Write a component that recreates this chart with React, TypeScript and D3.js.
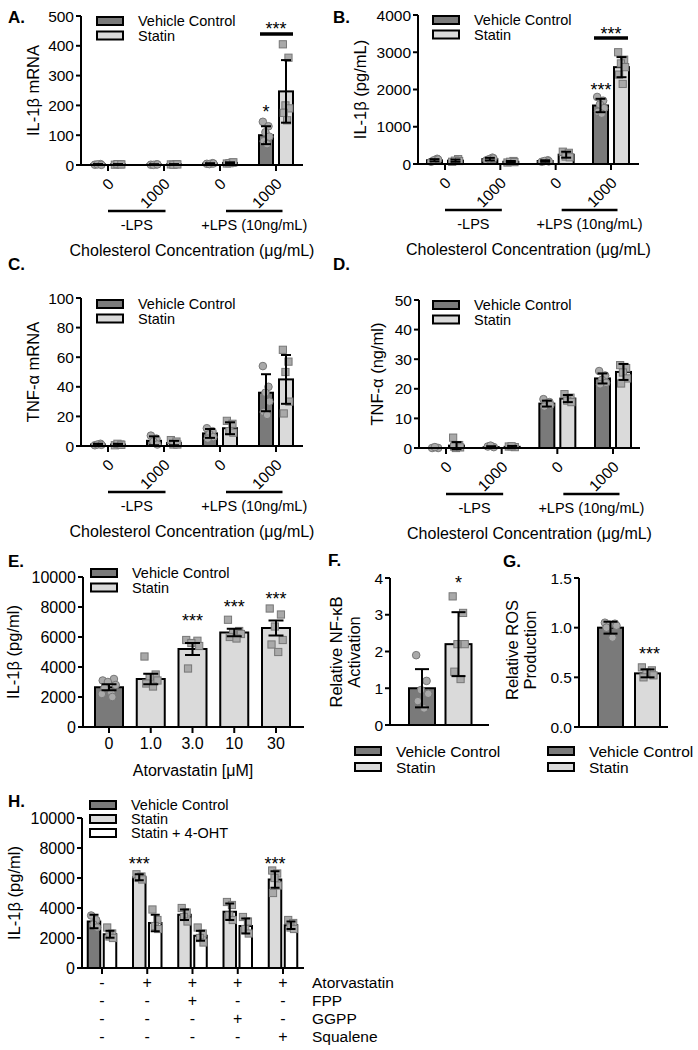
import React from 'react';
import * as d3 from 'd3';

// ---------------- DATA ----------------
const cholLabels = ['0', '1000', '0', '1000'];
const lpsLabels = ['-LPS', '+LPS (10ng/mL)'];
const seriesAD = ['Vehicle Control', 'Statin'];
const seriesH = ['Vehicle Control', 'Statin', 'Statin + 4-OHT'];

// A: IL-1β mRNA
const aVehicle = [2, 1.5, 4.5, 100];
const aVehicleSD = [1, 1, 1.5, 30];
const aStatin = [2, 2, 7, 247];
const aStatinSD = [1, 1, 2, 105];
const aVehiclePts = [[1, 3, 2, 0.5], [1, 2, 0.5, 2], [4, 6, 3, 5], [145, 130, 110, 95, 80, 70]];
const aStatinPts = [[1, 2, 3, 2], [2, 3, 1, 2], [5, 8, 6, 9], [405, 360, 200, 190, 175, 150]];

// B: IL-1β (pg/mL)
const bVehicle = [100, 130, 80, 1570];
const bVehicleSD = [30, 35, 20, 180];
const bStatin = [90, 60, 250, 2600];
const bStatinSD = [30, 20, 80, 270];
const bVehiclePts = [[60, 140, 100, 120], [100, 170, 130, 150], [60, 100, 80, 70], [1800, 1700, 1600, 1500, 1400, 1350]];
const bStatinPts = [[60, 130, 90, 80], [40, 80, 60, 50], [330, 300, 200, 180], [3000, 2800, 2700, 2600, 2400, 2150]];

// C: TNF-α mRNA
const cVehicle = [1, 3.5, 8.5, 36];
const cVehicleSD = [0.5, 3, 3, 12.5];
const cStatin = [1, 2, 12, 45];
const cStatinSD = [0.5, 1.5, 4, 16.5];
const cVehiclePts = [[0.5, 1.5, 1, 0.8], [7, 5, 3, 1], [12, 10, 8, 6, 5], [54, 40, 36, 30, 23, 21]];
const cStatinPts = [[0.5, 1, 1.5, 0.8], [4, 3, 1, 1], [17, 15, 10, 9], [65, 57, 50, 30, 22]];

// D: TNF-α (ng/ml)
const dVehicle = [0, 0.3, 15, 23.5];
const dVehicleSD = [0, 0.3, 1, 1.7];
const dStatin = [0.8, 0.4, 16.7, 25.7];
const dStatinSD = [1.2, 0.3, 1.2, 2.7];
const dVehiclePts = [[0, 0, 0.3], [0.5, 0.3, 0.8], [16.5, 15.5, 15, 14.5, 14], [26, 24.5, 23, 22, 21.5]];
const dStatinPts = [[3.5, 1, 0, 0.2, 0.5], [0.5, 0.3, 0.6], [18.2, 17, 16, 15.5], [28, 27, 25.5, 23.5, 21.8]];

// E: Atorvastatin dose
const eDoses = ['0', '1.0', '3.0', '10', '30'];
const eMeans = [2650, 3200, 5200, 6300, 6600];
const eSEM = [200, 350, 400, 250, 500];
const ePts = [
  [3100, 3200, 3000, 2800, 2600, 2300, 2200, 2000],
  [4700, 3500, 3300, 3100, 2900, 2700],
  [5800, 5750, 5600, 5400, 3900],
  [7150, 6400, 6300, 6200, 6000, 5900],
  [7900, 7500, 6700, 5800, 5500, 5000],
];
const eStars = ['', '', '***', '***', '***'];

// F: NF-κB
const fMeans = [1.0, 2.2];
const fSD = [0.52, 0.87];
const fPts = [[1.9, 1.2, 0.95, 0.85, 0.65, 0.45], [3.5, 3.05, 2.2, 2.2, 1.45, 1.25]];

// G: ROS
const gMeans = [1.0, 0.54];
const gSD = [0.06, 0.04];
const gPts = [[1.05, 1.04, 1.03, 1.02, 1.0, 0.9], [0.6, 0.57, 0.55, 0.52, 0.5]];

// H: rescue
const hFirst = [3100, 6050, 3550, 3750, 5900];
const hFirstSD = [450, 200, 350, 550, 550];
const hFirstPts = [[3500, 3200, 2900, 2700], [6250, 6100, 6000, 5900], [4000, 3700, 3400, 3100], [4400, 4200, 3500, 3200], [6500, 6300, 6000, 5500, 5000]];
const hOHT = [2250, 3000, 2150, 2800, 2850];
const hOHTSD = [230, 550, 330, 500, 250];
const hOHTPts = [[2700, 2300, 2100, 2000], [3900, 3200, 2800, 2600], [2700, 2300, 2000, 1700], [3400, 3100, 2600, 2300], [3200, 3000, 2700, 2600]];
const hRows = ['Atorvastatin', 'FPP', 'GGPP', 'Squalene'];
const hSigns = [
  ['-', '+', '+', '+', '+'],
  ['-', '-', '+', '-', '-'],
  ['-', '-', '-', '+', '-'],
  ['-', '-', '-', '-', '+'],
];
const hStars = ['', '***', '', '', '***'];

// ---------------- STYLE ----------------
const FONT = '"Liberation Sans", Arial, Helvetica, sans-serif';
const C_VC = '#7a7a7a';
const C_ST = '#dadada';
const C_OHT = '#ffffff';
const PT_FILL = '#a9a9a9';
const PT_STROKE = '#777777';
const JIT = [-0.28, 0.22, -0.05, 0.3, -0.2, 0.1, -0.32, 0.15];
const TFS = 15.5;

type Y = d3.ScaleLinear<number, number>;

function YAxis({ x, y, ticks, fmt, fs = TFS }: { x: number; y: Y; ticks: number[]; fmt?: (v: number) => string; fs?: number }) {
  const [y0, y1] = y.range();
  const f = fmt || ((v: number) => String(v));
  return (
    <g>
      <line x1={x} x2={x} y1={y0 + 1} y2={y1} stroke="#000" strokeWidth={2} />
      {ticks.map((t) => (
        <g key={t}>
          <line x1={x - 5} x2={x} y1={y(t)} y2={y(t)} stroke="#000" strokeWidth={2} />
          <text x={x - 7} y={y(t)} textAnchor="end" dominantBaseline="central" fontSize={fs}>{f(t)}</text>
        </g>
      ))}
    </g>
  );
}

function XAxis({ x0, x1, y0, ticks }: { x0: number; x1: number; y0: number; ticks: number[] }) {
  return (
    <g>
      <line x1={x0 - 1} x2={x1} y1={y0} y2={y0} stroke="#000" strokeWidth={2} />
      {ticks.map((t, i) => (
        <line key={i} x1={t} x2={t} y1={y0} y2={y0 + 6} stroke="#000" strokeWidth={2} />
      ))}
    </g>
  );
}

function Bar({ cx, w, y, mean, sd, pts, fill, shape, cap }: { cx: number; w: number; y: Y; mean: number; sd: number; pts: number[]; fill: string; shape: string; cap?: number }) {
  const y0 = y(0);
  const ym = y(mean);
  const cw = cap ?? Math.min(w * 0.7, 14);
  return (
    <g>
      <rect x={cx - w / 2} y={ym} width={w} height={Math.max(0, y0 - ym)} fill={fill} stroke="#000" strokeWidth={2} />
      {pts.map((p, i) => {
        const px = cx + JIT[i % JIT.length] * w * 0.8;
        const py = y(p);
        return shape === 'circle' ? (
          <circle key={i} cx={px} cy={py} r={3.8} fill={PT_FILL} stroke={PT_STROKE} strokeWidth={1} />
        ) : (
          <rect key={i} x={px - 3.6} y={py - 3.6} width={7.2} height={7.2} fill={PT_FILL} stroke={PT_STROKE} strokeWidth={1} />
        );
      })}
      {sd > 0 && (
        <g stroke="#000" strokeWidth={2}>
          <line x1={cx} x2={cx} y1={y(mean - sd)} y2={y(mean + sd)} />
          <line x1={cx - cw / 2} x2={cx + cw / 2} y1={y(mean + sd)} y2={y(mean + sd)} />
          <line x1={cx - cw / 2} x2={cx + cw / 2} y1={y(mean - sd)} y2={y(mean - sd)} />
        </g>
      )}
    </g>
  );
}

function Legend({ x, y, items, gap, fs = 15.5 }: { x: number; y: number; items: { label: string; fill: string }[]; gap: number; fs?: number }) {
  return (
    <g>
      {items.map((it, i) => (
        <g key={i}>
          <rect x={x} y={y + i * gap} width={26} height={8} fill={it.fill} stroke="#000" strokeWidth={2} />
          <text x={x + 41} y={y + i * gap + 4} dominantBaseline="central" fontSize={fs}>{it.label}</text>
        </g>
      ))}
    </g>
  );
}

function Stars({ x, y, s }: { x: number; y: number; s: string }) {
  return (
    <text x={x} y={y + 10} textAnchor="middle" fontSize={18}>{s}</text>
  );
}

function YTitle({ x, y, lines, fs = 16.5 }: { x: number; y: number; lines: string[]; fs?: number }) {
  const lh = fs * 1.1;
  return (
    <text transform={`translate(${x},${y}) rotate(-90)`} textAnchor="middle" fontSize={fs}>
      {lines.map((l, i) => (
        <tspan key={i} x={0} y={(i - (lines.length - 1) / 2) * lh} dominantBaseline="central">{l}</tspan>
      ))}
    </text>
  );
}

function CholPanel({ label, lx, ly, y, axisX, axisEnd, c0, c3, w, off, vc, vcSD, vcPts, st, stSD, stPts, ticks, title, titleX, legX, legY, fmt }: any) {
  const xs = d3.scalePoint<number>().domain(d3.range(cholLabels.length)).range([c0, c3]);
  const centers = d3.range(cholLabels.length).map((i) => xs(i) as number);
  const y0 = y(0);
  const ul = [[centers[0], centers[1] + 1.5], [centers[2] + 6, centers[3] + 6.5]];
  return (
    <g>
      <text x={lx} y={ly} fontSize={17} fontWeight="bold">{label}</text>
      <YTitle x={titleX} y={(y.range()[0] + y.range()[1]) / 2} lines={[title]} />
      <YAxis x={axisX} y={y} ticks={ticks} fmt={fmt} />
      {centers.map((c, i) => (
        <g key={i}>
          <Bar cx={c - off} w={w} y={y} mean={vc[i]} sd={vcSD[i]} pts={vcPts[i]} fill={C_VC} shape="circle" cap={10} />
          <Bar cx={c + off} w={w} y={y} mean={st[i]} sd={stSD[i]} pts={stPts[i]} fill={C_ST} shape="square" cap={10} />
        </g>
      ))}
      <XAxis x0={axisX} x1={axisEnd} y0={y0} ticks={centers} />
      {cholLabels.map((l, i) => (
        <text key={i} transform={`translate(${centers[i] + 3},${y0 + 16}) rotate(-45)`} textAnchor="end" dominantBaseline="central" fontSize={TFS}>{l}</text>
      ))}
      {ul.map((u, i) => (
        <g key={i}>
          <line x1={u[0]} x2={u[1]} y1={y0 + 46} y2={y0 + 46} stroke="#000" strokeWidth={2.5} />
          <text x={(u[0] + u[1]) / 2} y={y0 + 60} textAnchor="middle" dominantBaseline="central" fontSize={14.5}>{lpsLabels[i]}</text>
        </g>
      ))}
      <text x={(axisX + axisEnd) / 2} y={y0 + 85} textAnchor="middle" dominantBaseline="central" fontSize={16}>Cholesterol Concentration (μg/mL)</text>
      <Legend x={legX} y={legY} gap={14.5} fs={14.5} items={[{ label: seriesAD[0], fill: C_VC }, { label: seriesAD[1], fill: C_ST }]} />
    </g>
  );
}

export default function App() {
  const yA = d3.scaleLinear().domain([0, 500]).range([165, 16]);
  const yB = d3.scaleLinear().domain([0, 4000]).range([164, 15]);
  const yC = d3.scaleLinear().domain([0, 100]).range([446, 298]);
  const yD = d3.scaleLinear().domain([0, 50]).range([448, 300]);

  const yE = d3.scaleLinear().domain([0, 10000]).range([727, 577]);
  const xE = d3.scalePoint<number>().domain(d3.range(eDoses.length)).range([109, 276]);
  const eCenters = d3.range(eDoses.length).map((i) => xE(i) as number);

  const yF = d3.scaleLinear().domain([0, 4]).range([725, 578]);
  const fCenters = [422, 458.5];
  const yG = d3.scaleLinear().domain([0, 1.5]).range([727, 578]);
  const gCenters = [610.5, 647.5];

  const yH = d3.scaleLinear().domain([0, 10000]).range([968, 818]);
  const xH = d3.scalePoint<number>().domain(d3.range(hFirst.length)).range([102, 283]);
  const hCenters = d3.range(hFirst.length).map((i) => xH(i) as number);
  const hOff = 8;
  const hW = 12.5;

  const fmtDec = (v: number) => v.toFixed(1);

  return (
    <div style={{ position: 'absolute', left: 0, top: 0 }}>
      <svg width={698} height={1050} style={{ display: 'block', background: '#fff' }} fontFamily={FONT}>
        <rect x={0} y={0} width={698} height={1050} fill="#fff" />
        {/* A */}
        <CholPanel label="A." lx={8} ly={23} y={yA} axisX={81} axisEnd={303} c0={108} c3={276} w={14} off={10}
          vc={aVehicle} vcSD={aVehicleSD} vcPts={aVehiclePts} st={aStatin} stSD={aStatinSD} stPts={aStatinPts}
          ticks={[0, 100, 200, 300, 400, 500]} title="IL-1β mRNA" titleX={33} legX={97} legY={17} />
        <Stars x={266} y={108} s="*" />
        <line x1={260} x2={293} y1={34} y2={34} stroke="#000" strokeWidth={3.5} />
        <Stars x={276} y={25} s="***" />

        {/* B */}
        <CholPanel label="B." lx={333} ly={23} y={yB} axisX={418} axisEnd={639} c0={445} c3={611} w={15} off={10.5}
          vc={bVehicle} vcSD={bVehicleSD} vcPts={bVehiclePts} st={bStatin} stSD={bStatinSD} stPts={bStatinPts}
          ticks={[0, 1000, 2000, 3000, 4000]} title="IL-1β (pg/mL)" titleX={360} legX={433} legY={16} />
        <Stars x={601} y={86} s="***" />
        <line x1={594} x2={628} y1={38} y2={38} stroke="#000" strokeWidth={3.5} />
        <Stars x={611} y={30} s="***" />

        {/* C */}
        <CholPanel label="C." lx={8} ly={270} y={yC} axisX={81} axisEnd={303} c0={108} c3={276} w={14} off={10}
          vc={cVehicle} vcSD={cVehicleSD} vcPts={cVehiclePts} st={cStatin} stSD={cStatinSD} stPts={cStatinPts}
          ticks={[0, 20, 40, 60, 80, 100]} title="TNF-α mRNA" titleX={33} legX={97} legY={300} />

        {/* D */}
        <CholPanel label="D." lx={333} ly={270} y={yD} axisX={419} axisEnd={640} c0={446} c3={613} w={15} off={10.5}
          vc={dVehicle} vcSD={dVehicleSD} vcPts={dVehiclePts} st={dStatin} stSD={dStatinSD} stPts={dStatinPts}
          ticks={[0, 10, 20, 30, 40, 50]} title="TNF-α (ng/ml)" titleX={377} legX={433} legY={301} />

        {/* E */}
        <g>
          <text x={8} y={567} fontSize={17} fontWeight="bold">E.</text>
          <YTitle x={13} y={652} lines={['IL-1β (pg/ml)']} />
          <YAxis x={83} y={yE} ticks={[0, 2000, 4000, 6000, 8000, 10000]} fs={16} />
          {eCenters.map((c, i) => (
            <g key={i}>
              <Bar cx={c} w={28} y={yE} mean={eMeans[i]} sd={eSEM[i]} pts={ePts[i]} fill={i === 0 ? C_VC : C_ST} shape={i === 0 ? 'circle' : 'square'} cap={15} />
              {eStars[i] && <Stars x={c} y={yE(eMeans[i] + eSEM[i]) - 26} s={eStars[i]} />}
              <text x={c} y={743} textAnchor="middle" dominantBaseline="central" fontSize={16}>{eDoses[i]}</text>
            </g>
          ))}
          <XAxis x0={83} x1={304} y0={yE(0)} ticks={eCenters} />
          <text x={193} y={770} textAnchor="middle" dominantBaseline="central" fontSize={16}>Atorvastatin [μM]</text>
          <Legend x={91} y={569} gap={14.5} fs={14.5} items={[{ label: seriesAD[0], fill: C_VC }, { label: seriesAD[1], fill: C_ST }]} />
        </g>

        {/* F */}
        <g>
          <text x={328} y={566} fontSize={17} fontWeight="bold">F.</text>
          <YTitle x={345} y={652} lines={['Relative NF-κB', 'Activation']} />
          <YAxis x={390} y={yF} ticks={[0, 1, 2, 3, 4]} />
          {fCenters.map((c, i) => (
            <Bar key={i} cx={c} w={26} y={yF} mean={fMeans[i]} sd={fSD[i]} pts={fPts[i]} fill={i === 0 ? C_VC : C_ST} shape={i === 0 ? 'circle' : 'square'} cap={14} />
          ))}
          <line x1={389} x2={489} y1={yF(0)} y2={yF(0)} stroke="#000" strokeWidth={2} />
          <Stars x={fCenters[1]} y={579} s="*" />
          <Legend x={355} y={747} gap={16} items={[{ label: seriesAD[0], fill: C_VC }, { label: seriesAD[1], fill: C_ST }]} />
        </g>

        {/* G */}
        <g>
          <text x={503} y={567} fontSize={17} fontWeight="bold">G.</text>
          <YTitle x={521} y={650} lines={['Relative ROS', 'Production']} />
          <YAxis x={579} y={yG} ticks={[0, 0.5, 1.0, 1.5]} fmt={fmtDec} />
          {gCenters.map((c, i) => (
            <Bar key={i} cx={c} w={25} y={yG} mean={gMeans[i]} sd={gSD[i]} pts={gPts[i]} fill={i === 0 ? C_VC : C_ST} shape={i === 0 ? 'circle' : 'square'} cap={14} />
          ))}
          <line x1={578} x2={668} y1={yG(0)} y2={yG(0)} stroke="#000" strokeWidth={2} />
          <Stars x={gCenters[1] + 2} y={650} s="***" />
          <Legend x={548} y={747} gap={16} items={[{ label: seriesAD[0], fill: C_VC }, { label: seriesAD[1], fill: C_ST }]} />
        </g>

        {/* H */}
        <g>
          <text x={8} y={807} fontSize={17} fontWeight="bold">H.</text>
          <YTitle x={14} y={893} lines={['IL-1β (pg/ml)']} />
          <YAxis x={82} y={yH} ticks={[0, 2000, 4000, 6000, 8000, 10000]} fs={16} />
          {hCenters.map((c, i) => (
            <g key={i}>
              <Bar cx={c - hOff} w={hW} y={yH} mean={hFirst[i]} sd={hFirstSD[i]} pts={hFirstPts[i]} fill={i === 0 ? C_VC : C_ST} shape={i === 0 ? 'circle' : 'square'} cap={9} />
              <Bar cx={c + hOff} w={hW} y={yH} mean={hOHT[i]} sd={hOHTSD[i]} pts={hOHTPts[i]} fill={C_OHT} shape="square" cap={9} />
              {hStars[i] && <Stars x={c - hOff} y={860} s={hStars[i]} />}
            </g>
          ))}
          <XAxis x0={82} x1={304} y0={yH(0)} ticks={hCenters} />
          {hRows.map((r, ri) => (
            <g key={r}>
              {hSigns[ri].map((s, ci) => (
                <text key={ci} x={hCenters[ci]} y={982 + ri * 18.3} textAnchor="middle" dominantBaseline="central" fontSize={16}>{s}</text>
              ))}
              <text x={312} y={982 + ri * 18.3} dominantBaseline="central" fontSize={15.5}>{r}</text>
            </g>
          ))}
          <Legend x={90} y={801} gap={14} fs={14.5} items={[{ label: seriesH[0], fill: C_VC }, { label: seriesH[1], fill: C_ST }, { label: seriesH[2], fill: C_OHT }]} />
        </g>
      </svg>
    </div>
  );
}
